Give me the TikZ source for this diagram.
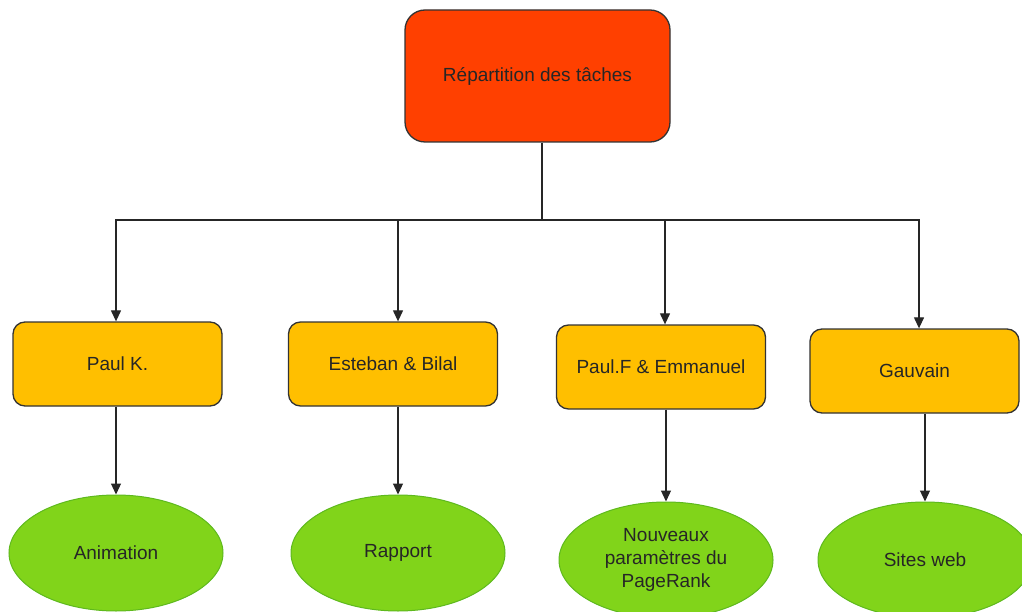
\documentclass[tikz,border=0pt]{standalone}
\usepackage{fontspec}
\setmainfont{Liberation Sans}
\usetikzlibrary{arrows.meta,positioning,shapes.geometric}
\definecolor{chefrouge}{HTML}{FF4000}
\definecolor{tacheor}{HTML}{FFBF00}
\definecolor{livrvert}{HTML}{81D41A}
\definecolor{livrbord}{HTML}{5EB91E}

\begin{document}
\begin{tikzpicture}[x=1pt, y=-1pt,
  every node/.style={font=\fontsize{19}{23}\selectfont, text=black!85},
  chef/.style={rectangle, rounded corners=20pt, draw=black!80, line width=1.3pt, fill=chefrouge, minimum width=265pt, minimum height=132pt},
  membre/.style={rectangle, rounded corners=12pt, draw=black!80, line width=1.3pt, fill=tacheor, minimum width=209pt, minimum height=84pt},
  livrable/.style={ellipse, draw=livrbord, line width=1pt, fill=livrvert, minimum width=214pt, minimum height=116pt, align=center, inner sep=0pt},
  arr/.style={-{Triangle[length=11pt, width=10pt]}, line width=1.2pt, draw=black!85}]
\useasboundingbox (0,0) rectangle (1022,612);
\node[chef] (rep) at (537.5,76) {Répartition des tâches};
\node[membre] (paulk) at (117.5,364) {Paul K.};
\node[membre] (esteb) at (393,364) {Esteban \& Bilal};
\node[membre] (paulf) at (661,367) {Paul.F \& Emmanuel};
\node[membre] (gauv) at (914.5,371) {Gauvain};
\node[livrable] (anim) at (116,553) {Animation};
\node[livrable] (rapp) at (398,553) {Rapport};
\node[livrable] (pager) at (666,560) {Nouveaux\\paramètres du\\PageRank};
\node[livrable] (sites) at (925,560) {Sites web};
% arbre
\coordinate (split) at (542,220);
\draw[line width=1.2pt, black!85] (split |- rep.south) -- (split);
\draw[arr] (split) -| ([xshift=-1.5pt]paulk.north);
\draw[arr] (split) -| ([xshift=5pt]esteb.north);
\draw[arr] (split) -| ([xshift=4pt]paulf.north);
\draw[arr] (split) -| ([xshift=4.5pt]gauv.north);
\draw[arr] (anim.north |- paulk.south) -- (anim.north);
\draw[arr] (rapp.north |- esteb.south) -- (rapp.north);
\draw[arr] (pager.north |- paulf.south) -- (pager.north);
\draw[arr] (sites.north |- gauv.south) -- (sites.north);
\end{tikzpicture}
\end{document}
